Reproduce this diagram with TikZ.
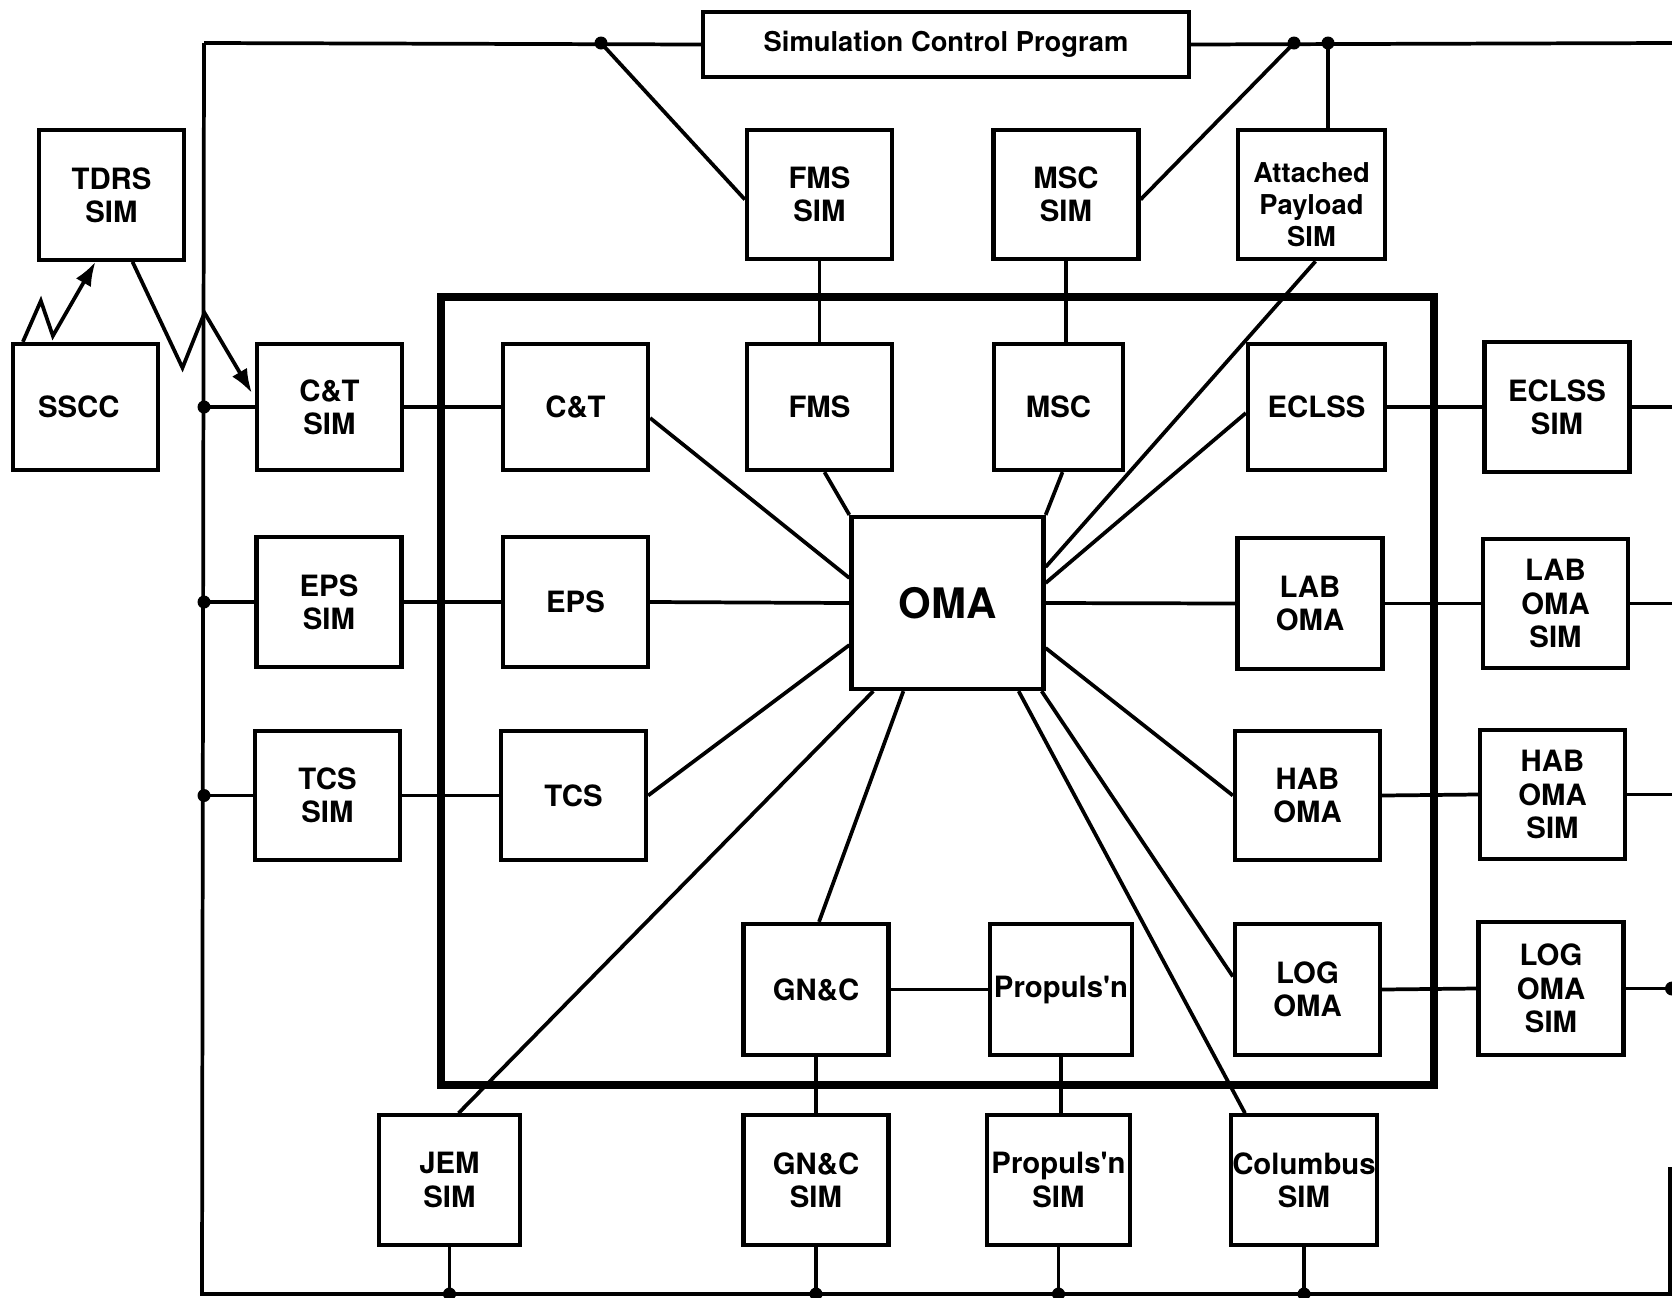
\documentclass[tikz,border=0pt]{standalone}
\usepackage{fontspec}
\setmainfont{TeX Gyre Heros}
\usetikzlibrary{calc}
\usetikzlibrary{arrows.meta}
\newcommand{\boxfont}{\fontsize{22}{25}\selectfont\bfseries}
\newcommand{\apos}{\textquotesingle}
\tikzset{every picture/.style={line width=0.75pt}}
\tikzset{
  blk/.style={draw, line width=3.2pt, minimum width=108.75pt, minimum height=97pt, inner sep=1pt, align=center, font=\boxfont},
  lnk/.style={line width=2.8pt},
  zig/.style={line width=2.8pt, -{Latex[length=18pt,width=13pt]}},
}

\begin{document}
\begin{tikzpicture}[x=0.75pt,y=0.75pt,yscale=-1,xscale=1]
\useasboundingbox (0,0) rectangle (1672,1297);

%Bus corners
\coordinate (tl) at (204,43);
\coordinate (tr) at (1672,43);
\coordinate (bl) at (202,1294);
\coordinate (br) at (1670,1294);
\coordinate (rb) at (1670,1167);
\coordinate (re) at (1672,0);
\coordinate (j1) at (601,43);
\coordinate (j2) at (1294,43);
\coordinate (j3) at (1328,43);

%Outer boxes
\node[blk, minimum width=364.5pt, minimum height=48.75pt, font=\fontsize{20.5}{24}\selectfont\bfseries] (scp) at (946,44.5) {Simulation Control Program};
\node[blk] (tdrs) at (111.5,195) {TDRS\\SIM};
\node[blk, minimum height=94.5pt] (sscc) at (85.5,407) {SSCC\hspace*{10pt}};
\node[blk, minimum height=94.5pt] (ctsim) at (329.5,407) {C\&T\\SIM};
\node[blk] (epssim) at (329,602) {EPS\\SIM};
\node[blk] (tcssim) at (327.5,795.5) {TCS\\SIM};
\node[blk] (fmssim) at (819.5,194.5) {FMS\\SIM};
\node[blk] (mscsim) at (1066,194.5) {MSC\\SIM};
\node[blk, minimum width=110.25pt, font=\fontsize{20.5}{24}\selectfont\bfseries] (apsim) at (1311.5,194.5) {\rule{0pt}{30pt}Attached\\Payload\\SIM};
\node[blk] (eclsssim) at (1557,407) {ECLSS\\SIM};
\node[blk] (labsim) at (1555.5,603.5) {LAB\\OMA\\SIM};
\node[blk] (habsim) at (1552.5,794.5) {HAB\\OMA\\SIM};
\node[blk, minimum height=99.75pt] (logsim) at (1551,988.5) {LOG\\OMA\\SIM};
\node[blk, minimum width=105.75pt] (jemsim) at (449.5,1180) {JEM\\SIM};
\node[blk] (gncsim) at (816,1180) {GN\&C\\SIM};
\node[blk, minimum width=107.25pt] (propsim) at (1058.5,1180) {Propuls\apos n\\SIM};
\node[blk] (colsim) at (1304,1180) {Columbus\\SIM};

%OMA frame
\draw[line width=6.5pt] (441,297) rectangle (1434,1085);

%Inner boxes
\node[blk, minimum height=94.5pt] (ct) at (575.5,407) {C\&T};
\node[blk, minimum height=94.5pt] (fms) at (819.5,407) {FMS};
\node[blk, minimum width=96.75pt, minimum height=94.5pt] (msc) at (1058.5,407) {MSC};
\node[blk, minimum width=102.75pt, minimum height=94.5pt] (eclss) at (1316.5,407) {ECLSS};
\node[blk, minimum width=144pt, minimum height=129pt, font=\fontsize{31.5}{35}\selectfont\bfseries] (oma) at (947.5,603) {OMA};
\node[blk] (eps) at (575.5,602) {EPS};
\node[blk] (tcs) at (573.5,795.5) {TCS};
\node[blk, minimum height=98.25pt] (lab) at (1310,603.5) {LAB\\OMA};
\node[blk] (hab) at (1307.5,795.5) {HAB\\OMA};
\node[blk, minimum height=98.25pt] (log) at (1307.5,989.5) {LOG\\OMA};
\node[blk, minimum height=98.25pt] (gnc) at (816,989.5) {GN\&C};
\node[blk, minimum width=106.5pt, minimum height=98.25pt] (prop) at (1061,989.5) {Propuls\apos n};

%Buses
\draw[lnk] (tl) -- (scp.west);
\draw[lnk] (scp.east) -- (tr);
\draw[lnk] (tl) -- (bl) -- (br) -- (rb);
\draw[lnk] (j1) -- ($(fmssim.west)+(0,5)$);
\draw[lnk] (j2) -- ($(mscsim.east)+(0,5)$);
\draw[lnk] (j3) -- (j3 |- apsim.north);
\foreach \j in {j1,j2,j3} \fill (\j) circle (6.5);

%Left side
\draw[lnk] (ctsim.west) -- (ctsim.west -| tl);
\draw[lnk] (epssim.west) -- (epssim.west -| tl);
\draw[lnk] (tcssim.west) -- (tcssim.west -| tl);
\foreach \s in {ctsim,epssim,tcssim} \fill (\s.west -| tl) circle (6.5);
\draw[lnk] (ctsim.east) -- (ct.west);
\draw[lnk] (epssim.east) -- (eps.west);
\draw[lnk] (tcssim.east) -- (tcs.west);

%Radio links
\draw[zig] ($(sscc.north west)+(12,0)$) -- ++(18,-41) -- ++(12,35) -- ($(tdrs.south)+(-16,0)$);
\draw[zig] ($(tdrs.south)+(21,0)$) -- ++(50,106) -- ++(22,-55) -- ($(ctsim.west)+(-3,-14)$);

%Top links
\draw[lnk] (fmssim.south) -- (fmssim.south |- fms.north);
\draw[lnk] (mscsim.south) -- (mscsim.south |- msc.north);

%Right side
\draw[lnk] (eclss.east) -- (eclsssim.west);
\draw[lnk] (lab.east) -- (labsim.west);
\draw[lnk] (hab.east) -- (habsim.west);
\draw[lnk] (log.east) -- (logsim.west);
\foreach \s in {eclsssim,labsim,habsim,logsim} \draw[lnk] (\s.east) -- (\s.east -| re);
\fill (logsim.east -| re) circle (7);

%Bottom links
\draw[lnk] (gnc.east) -- (prop.west);
\draw[lnk] (gnc.south) -- (gnc.south |- gncsim.north);
\draw[lnk] (prop.south) -- (prop.south |- propsim.north);
\foreach \s in {jemsim,gncsim,propsim,colsim} {
  \draw[lnk] (\s.south) -- (\s.south |- bl);
  \fill (\s.south |- bl) circle (6.5);
}

%Spokes from OMA
\draw[lnk] ($(ct.east)+(0,11)$) -- ($(oma.west)+(0,-25)$);
\draw[lnk] ($(fms.south)+(5,0)$) -- (oma.north west);
\draw[lnk] ($(msc.south)+(4,0)$) -- (oma.north east);
\draw[lnk] (eps.east) -- (oma.west);
\draw[lnk] (tcs.east) -- ($(oma.west)+(0,42)$);
\draw[lnk] ($(apsim.south)+(4,0)$) -- ($(oma.east)+(0,-36)$);
\draw[lnk] ($(eclss.west)+(0,6)$) -- ($(oma.east)+(0,-20)$);
\draw[lnk] (oma.east) -- (lab.west);
\draw[lnk] ($(oma.east)+(0,45)$) -- (hab.west);
\draw[lnk] ($(oma.south east)+(-4,0)$) -- ($(log.west)+(0,-13)$);
\draw[lnk] ($(oma.south east)+(-27,0)$) -- ($(colsim.north)+(-59,0)$);
\draw[lnk] ($(oma.south west)+(54,0)$) -- ($(gnc.north)+(3,0)$);
\draw[lnk] ($(oma.south west)+(24,0)$) -- ($(jemsim.north)+(9,0)$);

\end{tikzpicture}
\end{document}
